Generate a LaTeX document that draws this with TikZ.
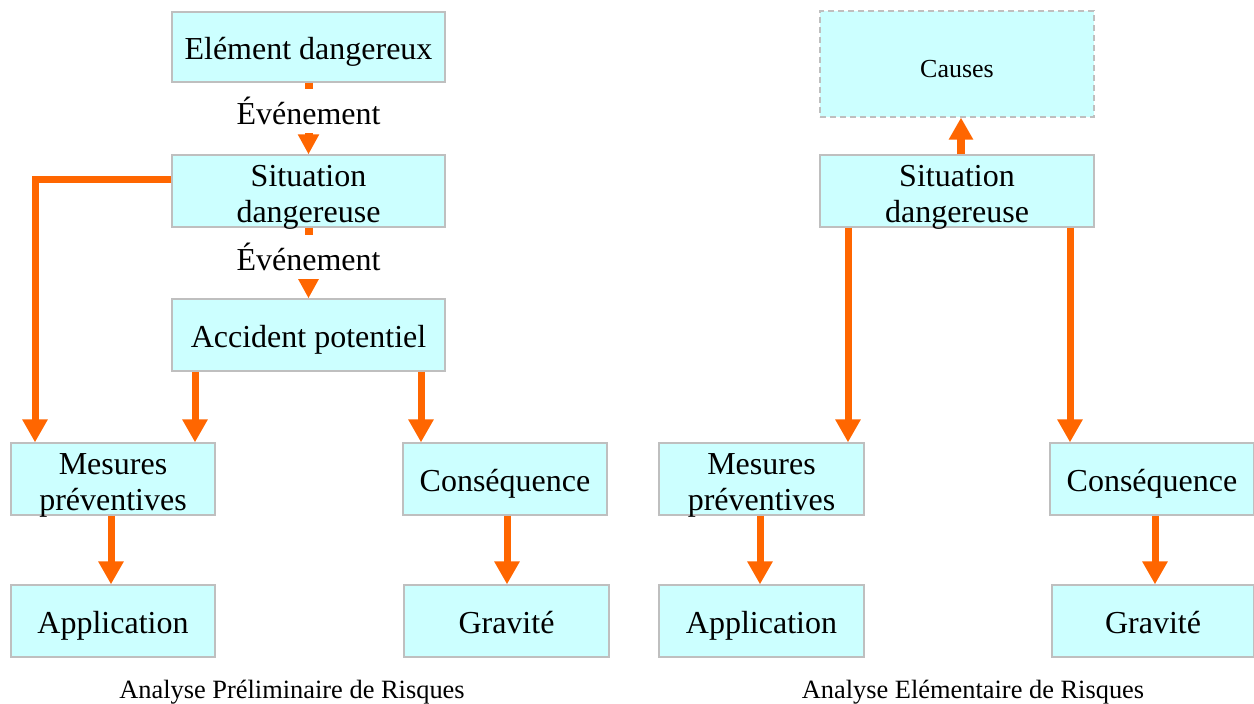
\documentclass[tikz,border=0pt]{standalone}
\usepackage{fontspec}
\setmainfont{Liberation Serif}
\usetikzlibrary{arrows.meta}
\definecolor{boxfill}{HTML}{CCFFFF}
\definecolor{boxline}{HTML}{BFBFBF}
\definecolor{arr}{HTML}{FF6600}
\begin{document}
\begin{tikzpicture}[x=0.5pt,y=-0.5pt,
  box/.style={draw=boxline,line width=0.6pt,fill=boxfill,inner sep=0pt,
    align=center,font=\fontsize{16}{18}\selectfont},
  one/.style={text height=13pt,text depth=0pt},
  bigbox/.style={box,minimum width=136.5pt,minimum height=36pt},
  smallbox/.style={box,minimum width=102pt,minimum height=36pt},
  twotext/.style={inner sep=0pt,align=center,font=\fontsize{16}{18}\selectfont},
  bigarrow/.style={draw=arr,line width=3.5pt,-{Triangle[width=12pt,length=11.5pt]}},
  evarrow/.style={draw=arr,line width=4pt,-{Triangle[width=10pt,length=10pt]}},
  evlabel/.style={fill=white,inner sep=0pt,minimum height=22pt,minimum width=76pt,
    font=\fontsize{16}{18}\selectfont},
  caption/.style={font=\fontsize{13.2}{15}\selectfont}]
\useasboundingbox (0,0) rectangle (1254,704);
% left diagram
\node[bigbox,one] (e1) at (308.5,47) [minimum height=35pt] {Elément dangereux};
\node[bigbox] (s1) at (308.5,191) {};
\node[twotext] (s1t) at ([yshift=-3pt]s1.center) {Situation\\dangereuse};
\node[bigbox,one] (a1) at (308.5,335) {Accident potentiel};
\node[smallbox] (m1) at (113,479) {};
\node[twotext] (m1t) at ([yshift=-3pt]m1.center) {Mesures\\préventives};
\node[smallbox,one] (c1) at (505,479) {Conséquence};
\node[smallbox,one] (ap1) at (113,621) {Application};
\node[smallbox,one,minimum width=102.5pt] (g1) at (506.5,621) {Gravité};
% right diagram
\node[box,dashed,dash pattern=on 3pt off 2pt,minimum width=137pt,minimum height=53pt,
  font=\fontsize{13}{15}\selectfont,text height=14pt,text depth=0pt] (ca) at (957,64) {Causes};
\node[box,minimum width=137pt,minimum height=36pt] (s2) at (957,191) {};
\node[twotext] (s2t) at ([yshift=-3pt]s2.center) {Situation\\dangereuse};
\node[smallbox,minimum width=102.5pt] (m2) at (761.5,479) {};
\node[twotext] (m2t) at ([yshift=-3pt]m2.center) {Mesures\\préventives};
\node[smallbox,one] (c2) at (1152,479) {Conséquence};
\node[smallbox,one,minimum width=102.5pt] (ap2) at (761.5,621) {Application};
\node[smallbox,one,minimum width=101pt] (g2) at (1153,621) {Gravité};
% left connectors
\draw[evarrow] (e1.south) -- node[evlabel,pos=0.39] (ev1) {Événement} (s1.north);
\draw[evarrow] (s1.south) -- node[evlabel,pos=0.42] (ev2) {Événement} (a1.north);
\draw[bigarrow] (s1.west |- 0,180) -| (m1.north -| 35,0);
\draw[bigarrow] (a1.south -| 195,0) -- (m1.north -| 195,0);
\draw[bigarrow] (a1.south -| 421,0) -- (c1.north -| 421,0);
\draw[bigarrow] (m1.south -| 111,0) -- (ap1.north -| 111,0);
\draw[bigarrow] (c1.south -| 507,0) -- (g1.north -| 507,0);
% right connectors
\draw[draw=arr,line width=4pt,-{Triangle[width=11.5pt,length=11pt]}] (s2.north -| 961,0) -- (ca.south -| 961,0);
\draw[bigarrow] (s2.south -| 848,0) -- (m2.north -| 848,0);
\draw[bigarrow] (s2.south -| 1070,0) -- (c2.north -| 1070,0);
\draw[bigarrow] (m2.south -| 760,0) -- (ap2.north -| 760,0);
\draw[bigarrow] (c2.south -| 1155,0) -- (g2.north -| 1155,0);
% captions
\node[caption] (cap1) at (292,692) {Analyse Préliminaire de Risques};
\node[caption] (cap2) at (973,692) {Analyse Elémentaire de Risques};
\end{tikzpicture}
\end{document}
